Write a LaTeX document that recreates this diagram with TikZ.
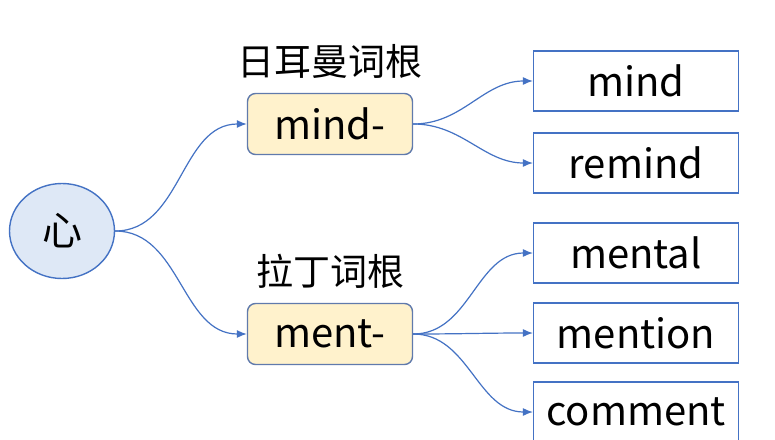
\documentclass[tikz,border=0pt]{standalone}
\usepackage{fontspec}
\setmainfont{Noto Sans CJK SC}
\usetikzlibrary{arrows.meta,positioning,shapes.geometric}
\usepackage{xcolor}
\definecolor{rootblue}{RGB}{68,114,196}
\definecolor{heartfill}{RGB}{222,232,246}
\definecolor{stemfill}{RGB}{255,242,204}
\definecolor{stemedge}{RGB}{96,122,172}

\begin{document}
\begin{tikzpicture}[
  x=1pt, y=-1pt,
  heart/.style={draw=rootblue, line width=1.4pt, ellipse, fill=heartfill, minimum width=105pt, minimum height=95pt, font=\fontsize{40}{44}\selectfont},
  stem/.style={draw=stemedge, line width=1.4pt, rounded corners=8pt, fill=stemfill, minimum width=165pt, minimum height=61pt, inner sep=0pt, font=\fontsize{40}{44}\selectfont},
  word/.style={draw=rootblue, line width=1.2pt, fill=white, minimum width=205pt, minimum height=60pt, inner sep=0pt, font=\fontsize{40}{44}\selectfont},
  tag/.style={inner sep=0pt, font=\fontsize{37}{40}\selectfont},
  link/.style={draw=rootblue, line width=1.2pt, -{Latex[length=10pt,width=8pt]}}
]
\clip (0,0) rectangle (775,439);
\fill[white] (0,0) rectangle (775,439);
\node[heart] (xin) at (62,231) {心};
\node[stem] (mind) at (330,124) {mind-};
\node[stem] (ment) at (330,334) {ment-};
\node[tag, above=14pt of mind] (ger) {日耳曼词根};
\node[tag, above=14pt of ment] (lat) {拉丁词根};
\node[word] (w1) at (636,81) {mind};
\node[word] (w2) at (636,163) {remind};
\node[word] (w3) at (636,253) {mental};
\node[word] (w4) at (636,333) {mention};
\node[word] (w5) at (636,412) {comment};
\draw[link] (xin.east) to[out=0, in=180] (mind.west);
\draw[link] (xin.east) to[out=0, in=180] (ment.west);
\foreach \w in {w1,w2}
  \draw[link] (mind.east) to[out=0, in=180] (\w.west);
\foreach \w in {w3,w4,w5}
  \draw[link] (ment.east) to[out=0, in=180] (\w.west);
\end{tikzpicture}
\end{document}
